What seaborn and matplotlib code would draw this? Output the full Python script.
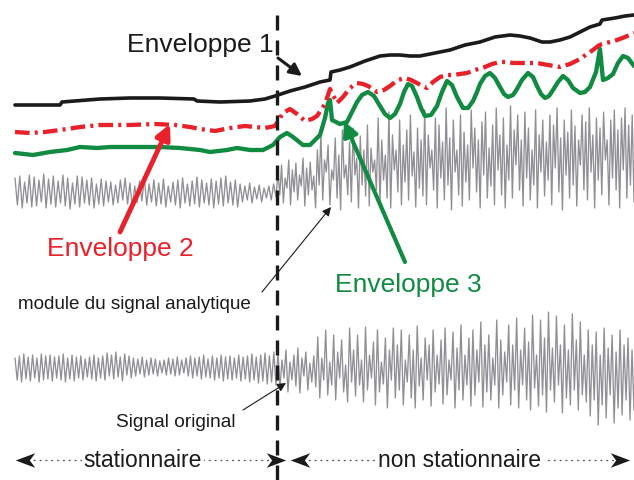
import numpy as np
import pandas as pd
import matplotlib
matplotlib.use("Agg")
import matplotlib.pyplot as plt
from matplotlib.path import Path
import seaborn as sns

sns.set_theme(style="white")
plt.rcParams["font.family"] = ["Liberation Sans", "DejaVu Sans"]

# ---------------------------------------------------------------------------
# Data (horizontal = time, vertical = position on the sheet, growing downward)
# ---------------------------------------------------------------------------
t_split = 277          # boundary between the stationary and non-stationary parts

# Envelope 1 (black)
env1_t = [15, 60, 62, 100, 130, 160, 194, 197, 220, 250, 265, 275, 290, 305, 320,
          330, 331, 340, 350, 365, 380, 390, 400, 410, 420, 435, 450, 465, 480,
          495, 510, 520, 530, 542, 550, 560, 570, 580, 590, 600, 602, 615, 625, 634]
env1_v = [105, 105, 102, 99, 98, 98, 99, 101, 102, 101, 99, 96, 91, 87, 82,
          80, 72, 70, 67, 61, 56, 55, 55, 56, 56, 53, 50, 45, 42,
          37, 35, 36, 38, 42, 42, 40, 37, 32, 27, 24, 20, 18, 16, 15]

# Envelope 2 (red, dash-dot)
env2_t = [15, 30, 45, 60, 80, 100, 130, 155, 175, 190, 200, 215, 230, 245, 255, 265,
          275, 283, 290, 297, 305, 312, 317, 325, 330, 334, 337, 343, 350, 357, 363,
          368, 377, 384, 390, 398, 405, 411, 417, 422, 427, 433, 440, 447, 453, 460,
          467, 475, 485, 492, 500, 507, 513, 525, 537, 548, 560, 570, 580, 587, 593,
          598, 602, 610, 617, 625, 634]
env2_v = [132, 133, 132, 130, 127, 125, 125, 124, 125, 127, 129, 131, 128, 126, 127, 128,
          126, 113, 109, 114, 121, 119, 116, 104, 89, 97, 103, 97, 88, 83, 84,
          86, 92, 90, 86, 80, 78, 80, 83, 86, 88, 82, 77, 75, 75, 74,
          73, 70, 67, 64, 62, 62, 63, 63, 63, 65, 67, 64, 59, 54, 50,
          46, 44, 42, 40, 37, 33]

# Envelope 3 (green)
env3_t = [15, 33, 50, 67, 80, 97, 110, 127, 147, 160, 180, 200, 210, 227, 237, 250,
          263, 273, 280, 287, 293, 303, 310, 320, 325, 328, 330, 332, 340, 347, 352,
          357, 362, 368, 374, 380, 385, 390, 395, 400, 404, 408, 412, 417, 421, 425,
          431, 437, 442, 447, 452, 457, 463, 468, 473, 477, 480, 485, 490, 495, 500,
          504, 508, 513, 517, 522, 528, 533, 537, 541, 545, 549, 553, 558, 563, 568,
          573, 580, 585, 590, 596, 600, 603, 608, 613, 618, 623, 628, 634]
env3_v = [153, 155, 152, 150, 147, 148, 147, 147, 147, 147, 148, 150, 152, 150, 148, 150,
          150, 145, 137, 133, 137, 145, 145, 135, 118, 103, 100, 120, 124, 122, 112,
          102, 95, 92, 96, 106, 114, 118, 114, 104, 92, 84, 86, 97, 108, 116,
          115, 106, 92, 81, 85, 97, 108, 108, 101, 92, 84, 76, 73, 78, 87,
          94, 97, 95, 89, 80, 73, 77, 86, 94, 98, 96, 90, 82, 76, 80,
          88, 93, 92, 87, 72, 49, 80, 78, 74, 63, 56, 58, 66]

# Modulus of the analytic signal: successive maxima / minima
mod_st_peaks = [178, 176, 182, 175, 177, 180, 174, 179, 176, 181,
                175, 178, 183, 176, 177, 180, 178, 184, 179, 181,
                182, 185, 180, 178, 183, 186, 181, 178, 184, 180,
                183, 179, 186, 182, 180, 178, 184, 181, 177, 180,
                183, 179, 181, 178, 176, 182, 180, 184, 186, 183,
                187, 185, 188, 186, 184]
mod_st_troughs = [205, 208, 203, 207, 206, 202, 208, 204, 207, 203,
                  206, 209, 204, 207, 203, 205, 208, 204, 206, 202,
                  205, 203, 200, 204, 207, 203, 201, 205, 202, 206,
                  204, 207, 202, 205, 208, 203, 206, 204, 207, 203,
                  205, 208, 204, 206, 203, 205, 207, 202, 200, 203,
                  199, 202, 198, 200, 197]
mod_ns_peaks = [172, 165, 178, 160, 170, 163, 175, 158, 168, 162,
                176, 150, 133, 160, 145, 170, 138, 155, 130, 165,
                142, 128, 158, 136, 150, 125, 148, 160, 118, 140,
                155, 112, 135, 150, 120, 145, 130, 115, 152, 128,
                140, 110, 135, 150, 118, 125, 142, 108, 138, 120,
                150, 115, 132, 145, 110, 128, 140, 122, 112, 148,
                125, 108, 135, 118, 145, 106, 130, 115, 140, 112,
                128, 150, 110, 135, 120, 142, 115, 125, 108, 138,
                120, 132, 110, 126, 140, 115, 122, 108, 135, 118,
                128, 112, 140, 120, 110, 130, 118, 108, 125, 115]
mod_ns_troughs = [195, 203, 188, 205, 192, 200, 186, 206, 195, 190,
                  208, 185, 200, 172, 205, 180, 198, 210, 178, 195,
                  202, 175, 208, 185, 196, 206, 172, 190, 204, 180,
                  198, 208, 170, 192, 205, 182, 200, 176, 207, 188,
                  196, 205, 168, 190, 208, 178, 200, 185, 210, 172,
                  195, 206, 182, 200, 168, 192, 208, 175, 198, 186,
                  205, 170, 195, 208, 180, 198, 165, 190, 206, 178,
                  200, 185, 208, 172, 196, 180, 205, 168, 192, 210,
                  175, 198, 185, 206, 165, 190, 200, 172, 208, 180,
                  195, 160, 205, 178, 190, 208, 170, 198, 185, 202]

# Original signal: successive maxima / minima
sig_st_peaks = [358, 356, 354, 357, 355, 358, 354, 356, 355, 357,
                356, 354, 358, 355, 357, 356, 359, 357, 355, 358,
                356, 353, 355, 352, 357, 354, 356, 358, 359, 357,
                360, 358, 359, 361, 360, 358, 359, 357, 360, 358,
                356, 358, 357, 355, 359, 356, 358, 355, 357, 356,
                358, 355, 357, 356, 354, 357, 355, 353, 356, 352]
sig_st_troughs = [380, 382, 379, 381, 378, 382, 380, 379, 381, 378,
                  380, 382, 379, 381, 378, 380, 377, 379, 381, 378,
                  380, 376, 379, 377, 381, 375, 378, 376, 374, 377,
                  375, 374, 376, 373, 375, 374, 376, 375, 373, 376,
                  378, 376, 379, 377, 378, 380, 378, 381, 379, 380,
                  378, 381, 379, 382, 380, 383, 381, 384, 382, 385]
sig_ns_peaks = [352, 360, 350, 362, 355, 348, 358, 352, 363, 356,
                337, 358, 330, 362, 335, 352, 340, 365, 328, 350,
                335, 360, 327, 355, 342, 330, 362, 338, 350, 328,
                345, 330, 360, 335, 350, 326, 358, 338, 345, 330,
                355, 340, 328, 360, 332, 348, 325, 355, 338, 330,
                350, 322, 345, 335, 358, 320, 340, 352, 325, 345,
                318, 350, 328, 342, 315, 355, 320, 338, 312, 348,
                316, 345, 325, 350, 314, 340, 322, 355, 330, 345,
                332, 355, 328, 348, 335, 352, 330, 345, 338, 350]
sig_ns_troughs = [388, 378, 392, 380, 386, 393, 376, 390, 382, 387,
                  398, 380, 395, 385, 400, 378, 392, 402, 382, 396,
                  385, 402, 390, 378, 405, 392, 384, 408, 380, 398,
                  390, 405, 382, 398, 408, 386, 400, 380, 406, 392,
                  384, 404, 395, 380, 408, 390, 400, 385, 406, 395,
                  382, 407, 392, 400, 385, 408, 395, 382, 405, 390,
                  408, 385, 400, 410, 388, 406, 395, 412, 390, 402,
                  385, 413, 398, 405, 390, 410, 395, 402, 416, 400,
                  425, 405, 418, 395, 423, 408, 415, 400, 420, 410]

# Colours
BLACK = "#1c1a1b"
RED = "#e8212b"
GREEN = "#118a42"
GREY = "#909094"


def zigzag(peaks, troughs, t0, t1):
    """Alternate maxima and minima evenly along [t0, t1]."""
    vals = np.empty(len(peaks) + len(troughs))
    vals[0::2] = peaks
    vals[1::2] = troughs
    return np.linspace(t0, t1, len(vals)), vals


def oscillation(st_p, st_t, ns_p, ns_t):
    t_a, v_a = zigzag(st_p, st_t, 15, t_split - 1)
    t_b, v_b = zigzag(ns_p, ns_t, t_split + 1, 634)
    return pd.DataFrame({"t": np.concatenate([t_a, t_b]),
                         "v": np.concatenate([v_a, v_b])})


modulus = oscillation(mod_st_peaks, mod_st_troughs, mod_ns_peaks, mod_ns_troughs)
original = oscillation(sig_st_peaks, sig_st_troughs, sig_ns_peaks, sig_ns_troughs)

# ---------------------------------------------------------------------------
# Figure
# ---------------------------------------------------------------------------
fig = plt.figure(figsize=(6.34, 4.8), dpi=100)
ax = fig.add_axes([0, 0, 1, 1])
ax.set_xlim(0, 634)
ax.set_ylim(480, 0)
ax.axis("off")

line_kw = dict(sort=False, estimator=None, ax=ax, legend=False)
sns.lineplot(data=modulus, x="t", y="v", color=GREY, linewidth=0.95, **line_kw)
sns.lineplot(data=original, x="t", y="v", color=GREY, linewidth=0.95, **line_kw)

sns.lineplot(x=env3_t, y=env3_v, color=GREEN, linewidth=3.1, **line_kw)
ax.lines[-1].set_solid_joinstyle("round")
sns.lineplot(x=env2_t, y=env2_v, color=RED, linewidth=3.1, **line_kw)
ax.lines[-1].set_dashes((3.4, 1.2, 0.7, 1.2))
sns.lineplot(x=env1_t, y=env1_v, color=BLACK, linewidth=2.6, **line_kw)
ax.lines[-1].set_solid_joinstyle("round")

# Boundary between the two regimes
ax.axvline(t_split, ymin=0, ymax=1 - 5 / 480, color=BLACK, linewidth=2.4,
           dashes=(4.5, 3.0))

# Labels and pointers
def pointer(tail, tip, color, lw, scale):
    ax.annotate("", xy=tip, xytext=tail,
                arrowprops=dict(arrowstyle="-|>", color=color, lw=lw,
                                mutation_scale=scale, shrinkA=0, shrinkB=0))

ax.text(127, 52, "Enveloppe 1", fontsize=19, color=BLACK, ha="left", va="baseline")
pointer((278, 58), (302, 76), BLACK, 2.2, 18)

ax.text(47, 256, "Enveloppe 2", fontsize=19, color=RED, ha="left", va="baseline")
pointer((120, 232), (170, 124), RED, 3.5, 22)

ax.text(335, 292, "Enveloppe 3", fontsize=19, color=GREEN, ha="left", va="baseline")
pointer((405, 262), (344, 121), GREEN, 3.0, 22)

ax.text(18, 309, "module du signal analytique", fontsize=13.6, color=BLACK,
        ha="left", va="baseline")
pointer((262, 292), (331, 207), BLACK, 0.8, 13)

ax.text(116, 427, "Signal original", fontsize=13.8, color=BLACK,
        ha="left", va="baseline")
pointer((243, 410), (286, 383), BLACK, 0.8, 13)

# Regime spans along the bottom
head = Path([(1.0, 0.0), (-1.0, 0.75), (-0.45, 0.0), (-1.0, -0.75), (1.0, 0.0)],
            [Path.MOVETO, Path.LINETO, Path.LINETO, Path.LINETO, Path.CLOSEPOLY])
head_left = Path(head.vertices * [-1, 1], head.codes)

y_span = 460
for (a, b), label, xc in [((18, 283), "stationnaire", 143),
                          ((293, 627), "non stationnaire", 460)]:
    ax.plot([a + 10, b - 10], [y_span, y_span], color="#555555", linewidth=1.0,
            linestyle=(0, (0.6, 3.6)), dash_capstyle="round")
    ax.plot([a + 7], [y_span], marker=head_left, markersize=14, color=BLACK,
            markeredgewidth=0)
    ax.plot([b - 7], [y_span], marker=head, markersize=14, color=BLACK,
            markeredgewidth=0)
    ax.text(xc, 467, label, fontsize=16.5, color=BLACK, ha="center", va="baseline",
            bbox=dict(facecolor="white", edgecolor="none", pad=1.5))

fig.savefig("out.png", dpi=100)
